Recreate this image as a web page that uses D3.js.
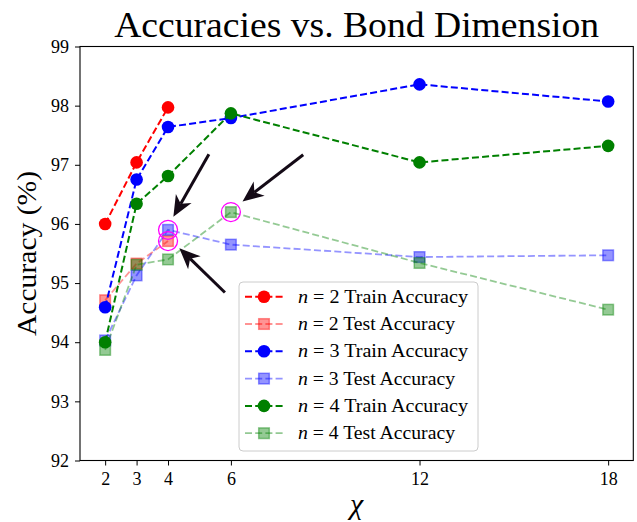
<!DOCTYPE html>
<html>
<head>
<meta charset="utf-8">
<script src="https://cdn.jsdelivr.net/npm/d3@7"></script>
<style>
  html, body { margin: 0; padding: 0; background: #fff; }
  svg { display: block; }
  text { font-family: "Liberation Serif", "Times New Roman", serif; fill: #000; }
</style>
</head>
<body>
<svg id="chart" width="637" height="522"></svg>
<script>
// ---- data ----
const chi = [2, 3, 4, 6, 12, 18];
const xTicks = [2, 3, 4, 6, 12, 18];
const yTicks = [92, 93, 94, 95, 96, 97, 98, 99];

const n2Train = [96.00, 97.04, 97.97];
const n2Test  = [94.71, 95.33, 95.71];
const n3Train = [94.59, 96.75, 97.64, 97.79, 98.36, 98.07];
const n3Test  = [94.03, 95.13, 95.90, 95.65, 95.44, 95.47];
const n4Train = [94.00, 96.34, 96.81, 97.87, 97.04, 97.32];
const n4Test  = [93.87, 95.31, 95.40, 96.20, 95.34, 94.55];

const seriesNames = ["n = 2 Train Accuracy", "n = 2 Test Accuracy",
                     "n = 3 Train Accuracy", "n = 3 Test Accuracy",
                     "n = 4 Train Accuracy", "n = 4 Test Accuracy"];

// highlighted points [chi, accuracy]
const highlights = [[4, n3Test[2]], [4, n2Test[2]], [6, n4Test[3]]];
// arrows: tail [chi, acc] -> tip [chi, acc]
const arrows = [
  {from: [5.30, 97.18], to: [4.17, 96.12]},
  {from: [8.30, 97.17], to: [6.37, 96.38]},
  {from: [5.81, 94.84], to: [4.36, 95.59]}
];

// ---- build series table ----
const series = [
  {name: seriesNames[0], vals: n2Train, color: "#ff0000", test: false},
  {name: seriesNames[1], vals: n2Test,  color: "#ff0000", test: true},
  {name: seriesNames[2], vals: n3Train, color: "#0000ff", test: false},
  {name: seriesNames[3], vals: n3Test,  color: "#0000ff", test: true},
  {name: seriesNames[4], vals: n4Train, color: "#008000", test: false},
  {name: seriesNames[5], vals: n4Test,  color: "#008000", test: true}
].map(s => ({...s, pts: s.vals.map((v, i) => [chi[i], v])}));

const svg = d3.select("#chart");
const L = 80, R = 633.3, T = 46.5, B = 460.5;
const x = d3.scaleLinear().domain([1.2, 18.8]).range([L, R]);
const y = d3.scaleLinear().domain([92, 99]).range([B, T]);

const testAlpha = 0.42;
const line = d3.line().x(d => x(d[0])).y(d => y(d[1]));

const plot = svg.append("g");
series.forEach(s => {
  const g = plot.append("g").attr("opacity", s.test ? testAlpha : 1);
  g.append("path").attr("d", line(s.pts)).attr("fill", "none")
    .attr("stroke", s.color).attr("stroke-width", s.test ? 1.8 : 2)
    .attr("stroke-dasharray", "7,3.2");
  if (s.test) {
    s.pts.forEach(p => {
      plot.append("rect")
        .attr("x", x(p[0]) - 5.3).attr("y", y(p[1]) - 5.3)
        .attr("width", 10.6).attr("height", 10.6)
        .attr("fill", s.color).attr("fill-opacity", testAlpha)
        .attr("stroke", s.color).attr("stroke-opacity", testAlpha).attr("stroke-width", 1.5);
    });
  } else {
    g.selectAll("circle").data(s.pts).join("circle")
      .attr("cx", d => x(d[0])).attr("cy", d => y(d[1])).attr("r", 6.3)
      .attr("fill", s.color);
  }
});

// highlight rings
plot.selectAll("circle.hl").data(highlights).join("circle").attr("class", "hl")
  .attr("cx", d => x(d[0])).attr("cy", d => y(d[1])).attr("r", 9.5)
  .attr("fill", "none").attr("stroke", "#ff00ff").attr("stroke-width", 1.3);

// frame
svg.append("rect").attr("x", L).attr("y", T).attr("width", R - L).attr("height", B - T)
  .attr("fill", "none").attr("stroke", "#000").attr("stroke-width", 1.1);

// axes
const xAxis = d3.axisBottom(x).tickValues(xTicks).tickSize(5).tickPadding(6).tickFormat(d3.format("d"));
const yAxis = d3.axisLeft(y).tickValues(yTicks).tickSize(5).tickPadding(6).tickFormat(d3.format("d"));
const gx = svg.append("g").attr("transform", `translate(0,${B})`).call(xAxis);
const gy = svg.append("g").attr("transform", `translate(${L},0)`).call(yAxis);
[gx, gy].forEach(g => {
  g.select(".domain").remove();
  g.selectAll(".tick line").attr("stroke", "#000").attr("stroke-width", 1);
  g.selectAll(".tick text").style("font-family", '"Liberation Serif", serif').style("font-size", "18px").attr("fill", "#000");
});
gx.selectAll(".tick text").attr("dy", "0.75em");

// title & labels
svg.append("text").attr("x", (L + R) / 2).attr("y", 37).attr("text-anchor", "middle")
  .style("font-size", "36px").attr("textLength", 485).attr("lengthAdjust", "spacingAndGlyphs")
  .text("Accuracies vs. Bond Dimension");
svg.append("text").attr("transform", `translate(36,${(T + B) / 2}) rotate(-90)`)
  .attr("text-anchor", "middle").style("font-size", "27px")
  .attr("textLength", 165).attr("lengthAdjust", "spacingAndGlyphs")
  .text("Accuracy (%)");
svg.append("text").attr("x", (L + R) / 2).attr("y", 514).attr("text-anchor", "middle")
  .style("font-size", "30px").style("font-style", "italic").text("χ");

// legend
const lg = svg.append("g");
lg.append("rect").attr("x", 239).attr("y", 282).attr("width", 239).attr("height", 169)
  .attr("rx", 4).attr("fill", "#fff").attr("fill-opacity", 0.85)
  .attr("stroke", "#cccccc").attr("stroke-width", 1);
series.forEach((s, i) => {
  const cy = 296.7 + i * 27.3;
  const g = lg.append("g").attr("opacity", s.test ? testAlpha : 1);
  g.append("line").attr("x1", 245).attr("x2", 283).attr("y1", cy).attr("y2", cy)
    .attr("stroke", s.color).attr("stroke-width", s.test ? 1.8 : 2).attr("stroke-dasharray", "7,3.2");
  if (s.test) {
    lg.append("rect").attr("x", 264 - 5.3).attr("y", cy - 5.3).attr("width", 10.6).attr("height", 10.6)
      .attr("fill", s.color).attr("fill-opacity", testAlpha)
      .attr("stroke", s.color).attr("stroke-opacity", testAlpha).attr("stroke-width", 1.5);
  } else {
    g.append("circle").attr("cx", 264).attr("cy", cy).attr("r", 6.3).attr("fill", s.color);
  }
  const parts = s.name.split(" = ");
  const t = lg.append("text").attr("x", 298).attr("y", cy + 6).style("font-size", "18px")
    .attr("textLength", 170 - (s.name.includes("Test") ? 13 : 0)).attr("lengthAdjust", "spacingAndGlyphs");
  t.append("tspan").style("font-style", "italic").text(parts[0]);
  t.append("tspan").text(" = " + parts[1]);
});

// arrows
arrows.forEach(a => {
  const sx = x(a.from[0]), sy = y(a.from[1]);
  const tx = x(a.to[0]), ty = y(a.to[1]);
  const len = Math.hypot(tx - sx, ty - sy);
  const ux = (tx - sx) / len, uy = (ty - sy) / len;
  const px = -uy, py = ux;
  const HL = 21, HW = 9, N = 6;
  const bx = tx - HL * ux, by = ty - HL * uy;
  const nx = tx - (HL - N) * ux, ny = ty - (HL - N) * uy;
  svg.append("line").attr("x1", sx).attr("y1", sy).attr("x2", nx).attr("y2", ny)
    .attr("stroke", "#140a16").attr("stroke-width", 3);
  svg.append("path")
    .attr("d", `M${tx},${ty} L${bx + HW * px},${by + HW * py} L${nx},${ny} L${bx - HW * px},${by - HW * py} Z`)
    .attr("fill", "#140a16");
});
</script>
</body>
</html>
